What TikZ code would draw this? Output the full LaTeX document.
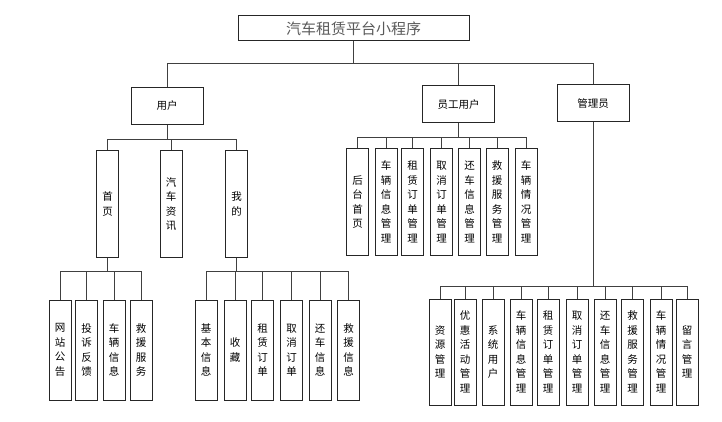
\documentclass[tikz,border=0pt]{standalone}
\usepackage{fontspec}
\newfontfamily\cjk{Noto Sans CJK SC}
\usepackage{tikz}
\usetikzlibrary{positioning}
\tikzset{
  root/.style={rectangle, draw=black!85, line width=1pt, minimum width=231pt, minimum height=25pt, inner sep=0pt, text=black!65, font=\cjk\fontsize{15}{18}\selectfont},
  role/.style={rectangle, draw=black!85, line width=1pt, minimum width=72pt, minimum height=37pt, inner sep=0pt, font=\cjk\fontsize{10.5}{13}\selectfont},
  vbox/.style={rectangle, draw=black!85, line width=1pt, minimum width=22pt, minimum height=106pt, inner sep=0pt, align=center, font=\cjk\fontsize{10.5}{14.5}\selectfont},
  vlow/.style={vbox, minimum height=100pt},
  ln/.style={draw=black!75, line width=0.9pt},
}
\begin{document}
\begin{tikzpicture}[x=1pt, y=-1pt]
  \useasboundingbox (0,0) rectangle (722,422);
  % root and roles
  \node[root] (app) at (353.5,28.5) {汽车租赁平台小程序};
  \node[role] (yh) at (167,106) {用户};
  \node[role] (yg) at (458.5,104.5) {员工用户};
  \node[role] (gly) at (593,103.5) {管理员};
  % user
  \node[vbox] (sy) at (107.5,204) {首\\页};
  \node[vbox] (zx) at (171,204) {汽\\车\\资\\讯};
  \node[vbox] (wd) at (236.5,204) {我\\的};
  \node[vlow] (gg) at (60,350) {网\\站\\公\\告};
  \node[vlow] (fk) at (86.5,350) {投\\诉\\反\\馈};
  \node[vlow] (cl) at (114,350) {车\\辆\\信\\息};
  \node[vlow] (jy) at (141,350) {救\\援\\服\\务};
  \node[vlow] (jb) at (206,350) {基\\本\\信\\息};
  \node[vlow] (sc) at (235,350) {收\\藏};
  \node[vlow] (zd) at (262.5,350) {租\\赁\\订\\单};
  \node[vlow] (qd) at (291.5,350) {取\\消\\订\\单};
  \node[vlow] (hc) at (320,350) {还\\车\\信\\息};
  \node[vlow] (jx) at (348.5,350) {救\\援\\信\\息};
  % staff
  \node[vbox] (ht) at (357.5,202) {后\\台\\首\\页};
  \node[vbox] (ygcl) at (386,202) {车\\辆\\信\\息\\管\\理};
  \node[vbox] (ygzd) at (412.5,202) {租\\赁\\订\\单\\管\\理};
  \node[vbox] (ygqd) at (441.5,202) {取\\消\\订\\单\\管\\理};
  \node[vbox] (yghc) at (469.5,202) {还\\车\\信\\息\\管\\理};
  \node[vbox] (ygjy) at (497,202) {救\\援\\服\\务\\管\\理};
  \node[vbox] (ygqk) at (526,202) {车\\辆\\情\\况\\管\\理};
  % admin
  \node[vbox] (zy) at (440,352) {资\\源\\管\\理};
  \node[vbox] (yh2) at (465,352) {优\\惠\\活\\动\\管\\理};
  \node[vbox] (xt) at (493,352) {系\\统\\用\\户};
  \node[vbox] (gcl) at (521,352) {车\\辆\\信\\息\\管\\理};
  \node[vbox] (gzd) at (548,352) {租\\赁\\订\\单\\管\\理};
  \node[vbox] (gqd) at (577,352) {取\\消\\订\\单\\管\\理};
  \node[vbox] (ghc) at (605,352) {还\\车\\信\\息\\管\\理};
  \node[vbox] (gjy) at (632.5,352) {救\\援\\服\\务\\管\\理};
  \node[vbox] (gqk) at (661,352) {车\\辆\\情\\况\\管\\理};
  \node[vbox] (ly) at (687,352) {留\\言\\管\\理};
  % links
  \draw[ln] (app.south) -- ++(0,22) -| (yh.north);
  \draw[ln] (app.south) -- ++(0,22) -| (yg.north);
  \draw[ln] (app.south) -- ++(0,22) -| (gly.north);
  \draw[ln] (yh.south) -- ++(0,14) -| (sy.north);
  \draw[ln] (yh.south) -- ++(0,14) -| (zx.north);
  \draw[ln] (yh.south) -- ++(0,14) -| (wd.north);
  \draw[ln] (sy.south) -- ++(0,14) -| (gg.north);
  \draw[ln] (sy.south) -- ++(0,14) -| (fk.north);
  \draw[ln] (sy.south) -- ++(0,14) -| (cl.north);
  \draw[ln] (sy.south) -- ++(0,14) -| (jy.north);
  \draw[ln] (wd.south) -- ++(0,14) -| (jb.north);
  \draw[ln] (wd.south) -- ++(0,14) -| (sc.north);
  \draw[ln] (wd.south) -- ++(0,14) -| (zd.north);
  \draw[ln] (wd.south) -- ++(0,14) -| (qd.north);
  \draw[ln] (wd.south) -- ++(0,14) -| (hc.north);
  \draw[ln] (wd.south) -- ++(0,14) -| (jx.north);
  \draw[ln] (yg.south) -- ++(0,14) -| (ht.north);
  \draw[ln] (yg.south) -- ++(0,14) -| (ygcl.north);
  \draw[ln] (yg.south) -- ++(0,14) -| (ygzd.north);
  \draw[ln] (yg.south) -- ++(0,14) -| (ygqd.north);
  \draw[ln] (yg.south) -- ++(0,14) -| (yghc.north);
  \draw[ln] (yg.south) -- ++(0,14) -| (ygjy.north);
  \draw[ln] (yg.south) -- ++(0,14) -| (ygqk.north);
  \draw[ln] (gly.south) -- ++(0,164) -| (zy.north);
  \draw[ln] (gly.south) -- ++(0,164) -| (yh2.north);
  \draw[ln] (gly.south) -- ++(0,164) -| (xt.north);
  \draw[ln] (gly.south) -- ++(0,164) -| (gcl.north);
  \draw[ln] (gly.south) -- ++(0,164) -| (gzd.north);
  \draw[ln] (gly.south) -- ++(0,164) -| (gqd.north);
  \draw[ln] (gly.south) -- ++(0,164) -| (ghc.north);
  \draw[ln] (gly.south) -- ++(0,164) -| (gjy.north);
  \draw[ln] (gly.south) -- ++(0,164) -| (gqk.north);
  \draw[ln] (gly.south) -- ++(0,164) -| (ly.north);
\end{tikzpicture}
\end{document}
